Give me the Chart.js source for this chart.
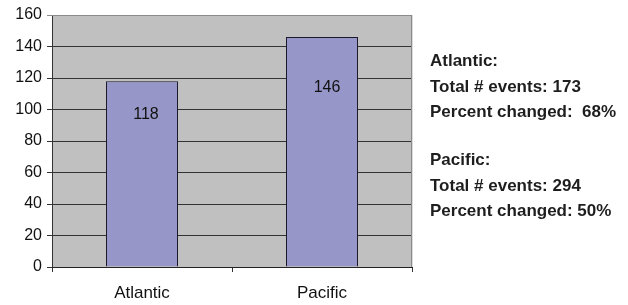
<!DOCTYPE html>
<html>
<head>
	<title>Events</title>
	<script src="https://cdn.jsdelivr.net/npm/chart.js"></script>
	<style>
		body { margin: 0; background: #fff; }
		#wrap { width: 628px; height: 305px; }
	</style>
</head>
<body>
	<div id="wrap"><canvas id="myChart"></canvas></div>
	<script>
		// data
		var oceans = ['Atlantic', 'Pacific'];
		var eventCounts = [118, 146];
		var yTicks = [0, 20, 40, 60, 80, 100, 120, 140, 160];
		var notes = [
			'Atlantic:',
			'Total # events: 173',
			'Percent changed:  68%',
			'',
			'Pacific:',
			'Total # events: 294',
			'Percent changed: 50%'
		];

		// grey plot area + frame
		var plotBack = {
			id: 'plotBack',
			beforeDraw: function (chart) {
				var a = chart.chartArea, c = chart.ctx;
				c.save();
				c.fillStyle = '#c0c0c0';
				c.fillRect(a.left, a.top, a.right - a.left, a.bottom - a.top);
				c.restore();
			},
			beforeDatasetsDraw: function (chart) {
				var a = chart.chartArea, c = chart.ctx;
				c.save();
				c.strokeStyle = '#8a8a8a';
				c.lineWidth = 1;
				c.beginPath();
				c.moveTo(a.left, a.top + 0.5);
				c.lineTo(a.right - 0.5, a.top + 0.5);
				c.lineTo(a.right - 0.5, a.bottom);
				c.stroke();
				c.strokeStyle = '#dcdcdc';
				c.beginPath();
				c.moveTo(a.right + 0.5, a.top);
				c.lineTo(a.right + 0.5, a.bottom);
				c.stroke();
				c.restore();
			}
		};

		// value labels inside bars
		var barValues = {
			id: 'barValues',
			afterDatasetsDraw: function (chart) {
				var c = chart.ctx;
				var shiftX = [4, 5];
				var shiftY = [33, 51];
				var meta = chart.getDatasetMeta(0);
				c.save();
				c.font = '16px "Liberation Sans", Arial, sans-serif';
				c.fillStyle = '#111';
				c.textAlign = 'center';
				c.textBaseline = 'middle';
				meta.data.forEach(function (bar, i) {
					c.fillText(String(eventCounts[i]), bar.x + shiftX[i], bar.y + shiftY[i]);
				});
				c.restore();
			}
		};

		// text block at the right
		var sideNotes = {
			id: 'sideNotes',
			afterDraw: function (chart) {
				var c = chart.ctx;
				c.save();
				c.font = 'bold 17px "Liberation Sans", Arial, sans-serif';
				c.fillStyle = '#1e1e1e';
				c.textAlign = 'left';
				c.textBaseline = 'alphabetic';
				var y = 66;
				notes.forEach(function (line) {
					if (line) c.fillText(line, 430, y);
					y += line ? 25.5 : 22.5;
				});
				c.restore();
			}
		};

		var ctx = document.getElementById('myChart').getContext('2d');
		var chart = new Chart(ctx, {
			type: 'bar',
			data: {
				labels: oceans,
				datasets: [{
					data: eventCounts,
					backgroundColor: '#9696c9',
					borderColor: '#1a1a2a',
					borderWidth: 1,
					barPercentage: 0.4,
					categoryPercentage: 1.0
				}]
			},
			options: {
				responsive: true,
				maintainAspectRatio: false,
				animation: false,
				layout: { padding: { top: 15, right: 216, left: 0, bottom: 0 } },
				plugins: {
					legend: { display: false },
					tooltip: { enabled: false }
				},
				scales: {
					x: {
						grid: {
							offset: true,
							drawOnChartArea: false,
							tickLength: 5,
							color: '#333'
						},
						border: { color: '#222', width: 1 },
						ticks: {
							color: '#111',
							padding: 11,
							font: { family: '"Liberation Sans", Arial, sans-serif', size: 17 }
						},
						afterFit: function (s) { s.height = 38; }
					},
					y: {
						min: 0,
						max: 160,
						afterBuildTicks: function (s) {
							s.ticks = yTicks.map(function (v) { return { value: v }; });
						},
						grid: {
							tickLength: 5,
							color: function (c) { return c.tick && c.tick.value === 160 ? '#8a8a8a' : '#333'; }
						},
						border: { color: '#333', width: 1 },
						ticks: {
							color: '#111',
							padding: 5,
							font: { family: '"Liberation Sans", Arial, sans-serif', size: 16 }
						},
						afterFit: function (s) { s.width = 52; }
					}
				}
			},
			plugins: [plotBack, barValues, sideNotes]
		});
	</script>
</body>
</html>
